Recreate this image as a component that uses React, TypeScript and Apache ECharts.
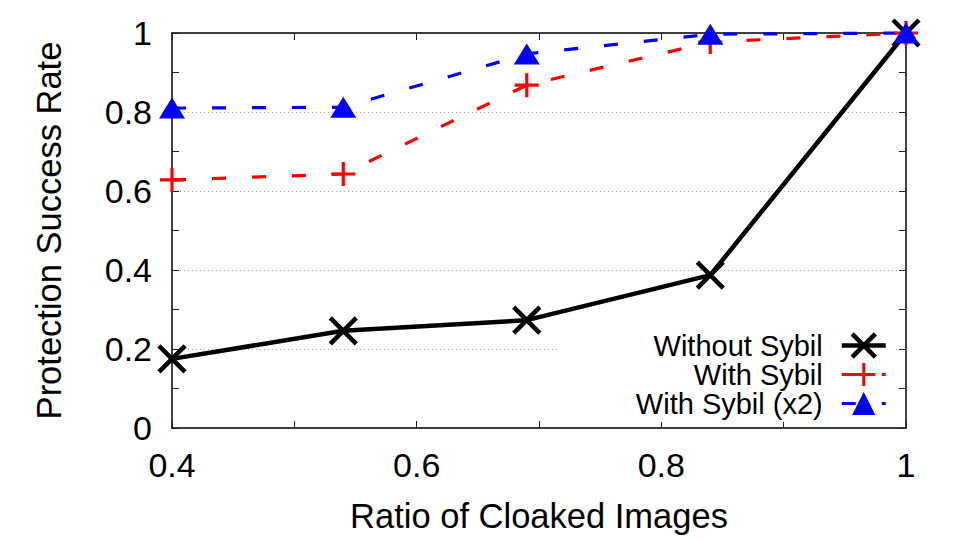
import React, { useEffect, useRef } from "react";
import * as echarts from "echarts";

const ratios = [0.4, 0.54, 0.69, 0.84, 1.0];
const withoutSybil = [0.175, 0.246, 0.273, 0.387, 1.0];
const withSybil = [0.628, 0.643, 0.868, 0.977, 1.0];
const withSybil2 = [0.81, 0.812, 0.947, 0.997, 1.0];
const seriesNames = ["Without Sybil", "With Sybil", "With Sybil (x2)"];

const FONT = "Liberation Sans, Arial, Helvetica, sans-serif";
const X_PATH = "path://M0,0L24,24M24,0L0,24";
const PLUS_PATH = "path://M12,0L12,24M0,12L24,12";

function pts(ys: number[]) {
  return ratios.map((x, i) => [x, ys[i]]);
}

export default function App() {
  const ref = useRef<HTMLDivElement>(null);
  useEffect(() => {
    if (!ref.current) return;
    const chart = echarts.init(ref.current, undefined, { renderer: "svg" });
    const axisLine = { show: true, onZero: false, lineStyle: { color: "#000", width: 1.5 } };
    const tick = { show: true, inside: true, length: 7, lineStyle: { color: "#222", width: 1 } };
    const minor = { show: true, splitNumber: 2, length: 7, lineStyle: { color: "#222", width: 1 } };
    const label = { color: "#000", fontFamily: FONT, fontSize: 34, margin: 20 };
    chart.setOption({
      animation: false,
      backgroundColor: "#fff",
      grid: { left: 172, right: 63, top: 33, bottom: 113, containLabel: false },
      xAxis: [
        {
          type: "value", min: 0.4, max: 1, interval: 0.2, position: "bottom",
          axisLine, axisTick: tick, minorTick: minor,
          axisLabel: { ...label, formatter: (v: number) => String(Math.round(v * 10) / 10) },
          splitLine: { show: false }, minorSplitLine: { show: false },
          name: "Ratio of Cloaked Images", nameLocation: "middle", nameGap: 70,
          nameTextStyle: { color: "#000", fontFamily: FONT, fontSize: 34.5 },
        },
        {
          type: "value", min: 0.4, max: 1, interval: 0.2, position: "top",
          axisLine, axisTick: tick, minorTick: minor, axisLabel: { show: false },
          splitLine: { show: false },
        },
      ],
      yAxis: [
        {
          type: "value", min: 0, max: 1, interval: 0.2, position: "left",
          axisLine, axisTick: tick, minorTick: minor,
          axisLabel: { ...label, formatter: (v: number) => String(Math.round(v * 10) / 10) },
          splitLine: { show: true, lineStyle: { color: "#aaa", width: 1, type: [1, 3] } },
          name: "Protection Success Rate", nameLocation: "middle", nameGap: 106,
          nameTextStyle: { color: "#000", fontFamily: FONT, fontSize: 34.5 },
        },
        {
          type: "value", min: 0, max: 1, interval: 0.2, position: "right",
          axisLine, axisTick: tick, minorTick: minor, axisLabel: { show: false },
          splitLine: { show: false },
        },
      ],
      legend: {
        orient: "vertical",
        align: "right",
        right: 73,
        top: 327,
        itemWidth: 44,
        itemHeight: 29,
        itemGap: 0,
        padding: [4, 8, 4, 77],
        backgroundColor: "#fff",
        textStyle: { color: "#000", fontFamily: FONT, fontSize: 29, padding: [0, 14, 0, 0] },
        data: [
          { name: seriesNames[0], lineStyle: { width: 4.5 }, itemStyle: { borderWidth: 4.5 } },
          { name: seriesNames[1], lineStyle: { width: 3 }, itemStyle: { borderWidth: 3 } },
          { name: seriesNames[2], lineStyle: { width: 3 }, itemStyle: { borderWidth: 0 } },
        ],
      },
      series: [
        {
          name: seriesNames[0], type: "line", data: pts(withoutSybil), clip: false,
          symbol: X_PATH, symbolSize: 26,
          lineStyle: { color: "#000", width: 4.5, type: "solid" },
          itemStyle: { color: "#000", borderColor: "#000", borderWidth: 4.5 },
        },
        {
          name: seriesNames[1], type: "line", data: pts(withSybil), clip: false,
          symbol: PLUS_PATH, symbolSize: 24,
          lineStyle: { color: "#ff0000", width: 3.2, type: [14, 26] },
          itemStyle: { color: "#ff0000", borderColor: "#ff0000", borderWidth: 3.2 },
        },
        {
          name: seriesNames[2], type: "line", data: pts(withSybil2), clip: false,
          symbol: "triangle", symbolSize: [26, 21],
          lineStyle: { color: "#0000ff", width: 3.2, type: [14, 26] },
          itemStyle: { color: "#0000ff", borderWidth: 0 },
        },
      ],
    });
    return () => chart.dispose();
  }, []);
  return <div ref={ref} style={{ width: 969, height: 541, position: "absolute", left: 0, top: 0 }} />;
}
